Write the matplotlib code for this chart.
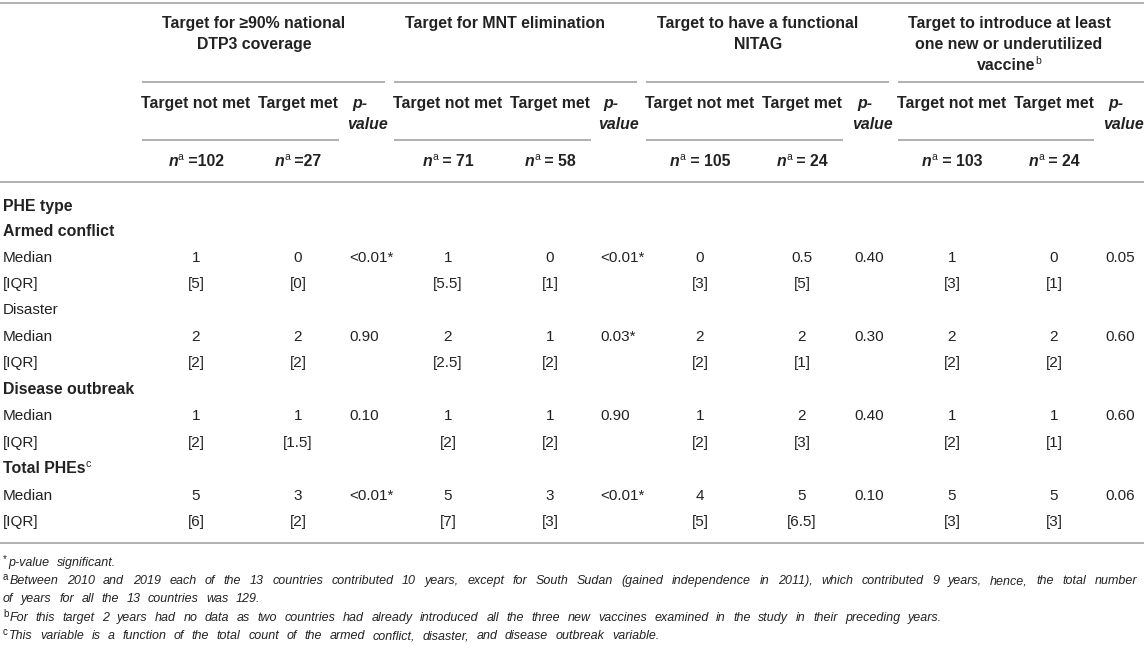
import matplotlib
matplotlib.use('Agg')
import matplotlib.pyplot as plt

# ---------------- data ----------------
group_titles = [
    ["Target for \u226590% national", "DTP3 coverage"],
    ["Target for MNT elimination"],
    ["Target to have a functional", "NITAG"],
    ["Target to introduce at least", "one new or underutilized", "vaccine"],
]
group_title_sup = [None, None, None, "b"]
sub_headers = ["Target not met", "Target met"]
n_not_met = ["=102", "= 71", "= 105", "= 103"]
n_met = ["=27", "= 58", "= 24", "= 24"]

categories = ["Armed conflict", "Disaster", "Disease outbreak", "Total PHEs"]
category_bold = [True, False, True, True]
category_sup = [None, None, None, "c"]

# [group][category]
median_not_met = [["1", "2", "1", "5"], ["1", "2", "1", "5"], ["0", "2", "1", "4"], ["1", "2", "1", "5"]]
median_met = [["0", "2", "1", "3"], ["0", "1", "1", "3"], ["0.5", "2", "2", "5"], ["0", "2", "1", "5"]]
iqr_not_met = [["[5]", "[2]", "[2]", "[6]"], ["[5.5]", "[2.5]", "[2]", "[7]"], ["[3]", "[2]", "[2]", "[5]"], ["[3]", "[2]", "[2]", "[3]"]]
iqr_met = [["[0]", "[2]", "[1.5]", "[2]"], ["[1]", "[2]", "[2]", "[3]"], ["[5]", "[1]", "[3]", "[6.5]"], ["[1]", "[2]", "[1]", "[3]"]]
p_values = [["<0.01*", "0.90", "0.10", "<0.01*"], ["<0.01*", "0.03*", "0.90", "<0.01*"],
            ["0.40", "0.30", "0.40", "0.10"], ["0.05", "0.60", "0.60", "0.06"]]

footnotes = [
    ("*", "p-value significant."),
    ("a", "Between 2010 and 2019 each of the 13 countries contributed 10 years, except for South Sudan (gained independence in 2011), which contributed 9 years, hence, the total number"),
    ("", "of years for all the 13 countries was 129."),
    ("b", "For this target 2 years had no data as two countries had already introduced all the three new vaccines examined in the study in their preceding years."),
    ("c", "This variable is a function of the total count of the armed conflict, disaster, and disease outbreak variable."),
]
footnote_justify = [False, True, False, False, False]

# ---------------- layout ----------------
W, H = 1144, 652
fig = plt.figure(figsize=(W / 100, H / 100), dpi=100)
ax = fig.add_axes([0, 0, 1, 1])
ax.set_xlim(0, W)
ax.set_ylim(H, 0)
ax.axis('off')
renderer = fig.canvas.get_renderer()

FAM = ['Liberation Sans', 'DejaVu Sans']
TXT = '#222222'
LINE = '#b0b0b0'
BODY = 11
BOLD = 11.4
FOOT = 9
SUP = 7.5
SUPF = 7


def base(yc, size):
    return yc + 0.716 * size * 100 / 72 / 2


def measure(s, **kw):
    t = ax.text(0, 0, s, family=FAM, **kw)
    w = t.get_window_extent(renderer).width
    t.remove()
    return w


def runs(x, yb, parts, ha='left'):
    ws = [measure(s, **kw) for s, kw, dy in parts]
    total = sum(ws)
    cx = x - total / 2 if ha == 'center' else x
    for (s, kw, dy), w in zip(parts, ws):
        ax.text(cx, yb + dy, s, family=FAM, va='baseline', ha='left', color=TXT, **kw)
        cx += w
    return cx


def words(x0, yb, text, kw, extra=4.0, x1=None):
    wl = text.split(' ')
    ws = [measure(w, **kw) for w in wl]
    space = measure('a a', **kw) - measure('aa', **kw)
    gap = space + extra
    if x1 is not None:
        gap = (x1 - x0 - sum(ws)) / (len(wl) - 1)
    cx = x0
    for w, wd in zip(wl, ws):
        ax.text(cx, yb, w, family=FAM, va='baseline', ha='left', color=TXT, **kw)
        cx += wd + gap


def hline(y, x0, x1, lw=1.4):
    ax.plot([x0, x1], [y, y], color=LINE, lw=lw, solid_capstyle='butt')


col1 = [196, 448, 700, 952]
col2 = [298, 550, 802, 1054]
pcol = [349, 600, 854, 1105]
grp_span = [(142, 385), (394, 637), (646, 889), (898, 1144)]
sub_span = [(142, 339), (394, 591), (646, 843), (898, 1094)]
grp_cx = [254, 505, 758, 1009]
title_y = [22, 43, 64]

B = dict(fontsize=BOLD, fontweight='bold')
R = dict(fontsize=BODY)
BI = dict(fontsize=BOLD, fontweight='bold', fontstyle='italic')
S = dict(fontsize=SUP)

# lines
hline(3, 0, W)
for (a, b) in grp_span:
    hline(82, a, b)
for (a, b) in sub_span:
    hline(140, a, b)
hline(182, 0, W)
hline(543, 0, W)

# group titles
for g in range(4):
    lines = group_titles[g]
    for i, ln in enumerate(lines):
        parts = [(ln, B, 0)]
        if i == len(lines) - 1 and group_title_sup[g]:
            parts.append((group_title_sup[g], S, -6))
        runs(grp_cx[g], base(title_y[i], BOLD), parts, ha='center')

# sub headers
for g in range(4):
    runs(col1[g], base(102, BOLD), [(sub_headers[0], B, 0)], ha='center')
    runs(col2[g], base(102, BOLD), [(sub_headers[1], B, 0)], ha='center')
    runs(pcol[g] + 3, base(102, BOLD), [("p-", BI, 0)])
    runs(pcol[g] - 2, base(123, BOLD), [("value", BI, 0)])
    runs(col1[g], base(160, BOLD), [("n", BI, 0), ("a", S, -6), (" " + n_not_met[g], B, 0)], ha='center')
    runs(col2[g], base(160, BOLD), [("n", BI, 0), ("a", S, -6), (" " + n_met[g], B, 0)], ha='center')

# body rows
row_y = [205, 231, 257, 283, 309, 336, 362, 389, 415, 442, 468, 495, 521]
runs(3, base(row_y[0], BOLD), [("PHE type", B, 0)])
for c, cat in enumerate(categories):
    y_cat, y_med, y_iqr = row_y[1 + 3 * c], row_y[2 + 3 * c], row_y[3 + 3 * c]
    parts = [(cat, B if category_bold[c] else R, 0)]
    if category_sup[c]:
        parts.append((category_sup[c], S, -6))
    runs(3, base(y_cat, BODY), parts)
    runs(3, base(y_med, BODY), [("Median", R, 0)])
    runs(3, base(y_iqr, BODY), [("[IQR]", R, 0)])
    for g in range(4):
        runs(col1[g], base(y_med, BODY), [(median_not_met[g][c], R, 0)], ha='center')
        runs(col2[g], base(y_med, BODY), [(median_met[g][c], R, 0)], ha='center')
        runs(pcol[g], base(y_med, BODY), [(p_values[g][c], R, 0)])
        runs(col1[g], base(y_iqr, BODY), [(iqr_not_met[g][c], R, 0)], ha='center')
        runs(col2[g], base(y_iqr, BODY), [(iqr_met[g][c], R, 0)], ha='center')

# footnotes
FI = dict(fontsize=FOOT, fontstyle='italic')
SF = dict(fontsize=SUPF)
foot_y = [562, 580, 598, 617, 635]
for (sup, txt), y, just in zip(footnotes, foot_y, footnote_justify):
    yb = base(y, FOOT)
    x = 3
    if sup:
        x = runs(3, yb, [(sup, SF, -4)]) + 1
    words(x, yb, txt, FI, extra=4.0, x1=1137 if just else None)

fig.savefig('out.png', dpi=100, facecolor='white')
